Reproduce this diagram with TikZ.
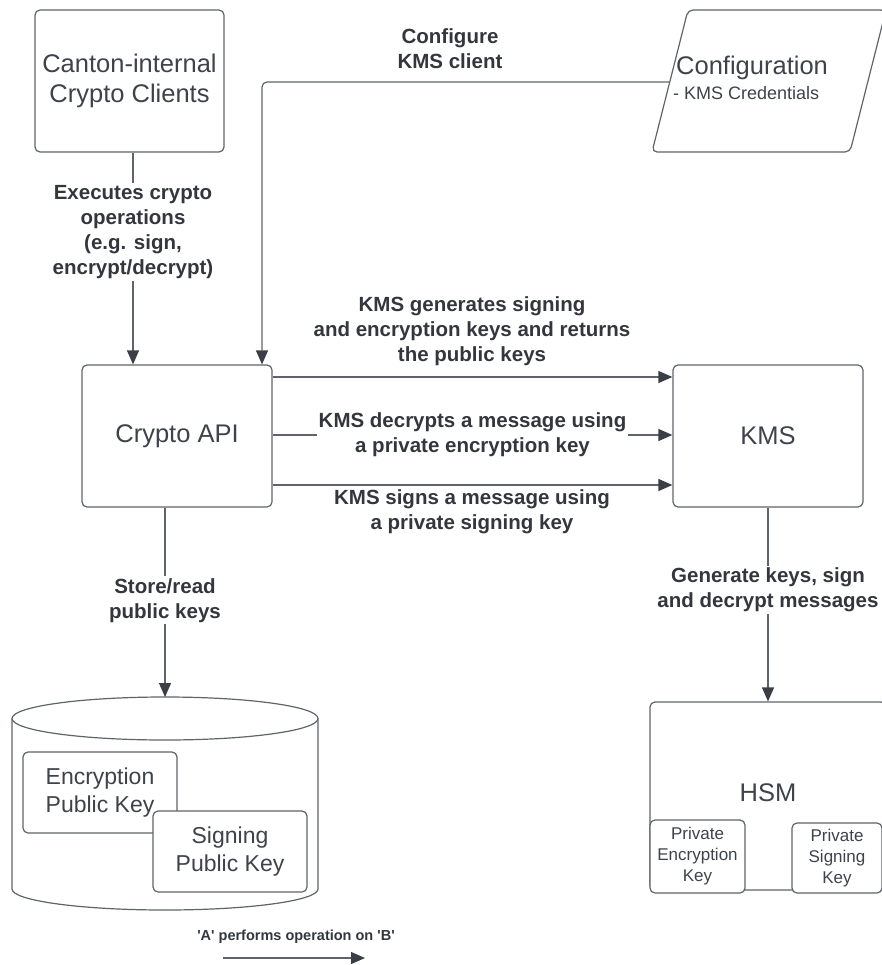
\documentclass[tikz,border=0pt]{standalone}
\usepackage{fontspec}
\setmainfont{Liberation Sans}
\usetikzlibrary{arrows.meta}
\definecolor{edge}{HTML}{5F646C}
\definecolor{tip}{HTML}{3A3F47}
\definecolor{txt}{HTML}{3E434B}
\definecolor{lbl}{HTML}{33373D}
\begin{document}
\begin{tikzpicture}[x=1pt,y=-1pt,
  box/.style={draw=edge, line width=1.2pt, rounded corners=5pt, fill=white, text=txt, align=center, inner sep=0pt},
  big/.style={font=\fontsize{25.5}{30}\selectfont},
  mid/.style={font=\fontsize{23}{28}\selectfont},
  small/.style={font=\fontsize{17}{21}\selectfont},
  lab/.style={font=\bfseries\fontsize{20.5}{25}\selectfont, text=lbl, align=center, inner sep=2pt},
  conn/.style={draw=edge, line width=1.2pt, -{Triangle[length=14pt,width=12pt,color=tip]}},
  ]
\useasboundingbox (0,0) rectangle (882,965);

% coordinates used by connectors
\coordinate (c1) at (133,0);
\coordinate (c2) at (262,0);
\coordinate (c3) at (165,0);
\coordinate (r1) at (0,377);
\coordinate (r2) at (0,435);
\coordinate (r3) at (0,485);
\coordinate (cfgin) at (669.7,82);
\coordinate (db) at (165,697);
\coordinate (la) at (223,958);
\coordinate (lb) at (365,958);

% boxes
\node[box,big,minimum width=189pt,minimum height=142pt] (canton) at (129.5,81) {Canton-internal\\Crypto Clients};
\node[box,big,minimum width=190pt,minimum height=142pt] (api) at (177,436) {Crypto API};
\node[box,big,minimum width=190pt,minimum height=142pt] (kms) at (768,436) {KMS};

% configuration parallelogram
\draw[draw=edge,line width=1.2pt,rounded corners=5pt,fill=white] (688,10) -- (886,10) -- (850,152) -- (652,152) -- cycle;
\node[anchor=base west, inner sep=0pt, big, text=txt] (cfgtitle) at (676,75) {Configuration};
\node[anchor=base west, inner sep=0pt, font=\fontsize{18}{22}\selectfont, text=txt] (cfgsub) at (673,100) {- KMS Credentials};

% HSM
\node[box,minimum width=236pt,minimum height=188pt] (hsm) at (768,796) {};
\node[big,text=txt,inner sep=0pt] (hsmtext) at (768,793) {HSM};
\node[box,small,minimum width=95pt,minimum height=73pt] (penc) at (697.5,856.5) {Private\\Encryption\\Key};
\node[box,small,minimum width=90pt,minimum height=70pt] (psig) at (837,858) {Private\\Signing\\Key};

% database cylinder
\draw[draw=edge, line width=1.2pt, fill=white] (12,718.5) -- (12,889) arc[start angle=180, end angle=360, x radius=153pt, y radius=21pt] -- (318,718.5);
\draw[draw=edge, line width=1.2pt, fill=white] (165,718.5) ellipse[x radius=153pt, y radius=21.5pt];
\node[box,mid,minimum width=154pt,minimum height=81pt] (encpub) at (100,792.5) {Encryption\\Public Key};
\node[box,mid,minimum width=154pt,minimum height=81pt] (sigpub) at (230,851.5) {Signing\\Public Key};

% connectors
\draw[conn] (canton.south -| c1) -- node[lab,fill=white,pos=0.375] (exec) {Executes crypto\\operations\\(e.g. sign,\\encrypt/decrypt)} (api.north -| c1);
\draw[conn,rounded corners=5pt] (cfgin) -| (api.north -| c2);
\node[lab] (cfglab) at (450,49) {Configure\\KMS client};

\draw[conn] (api.east |- r1) -- (kms.west |- r1);
\node[lab] (genlab) at (472,331) {KMS generates signing\\and encryption keys and returns\\the public keys};
\draw[conn] (api.east |- r2) -- node[lab,fill=white] (declab) {KMS decrypts a message using\\a private encryption key} (kms.west |- r2);
\draw[conn] (api.east |- r3) -- (kms.west |- r3);
\node[lab] (signlab) at (472,512) {KMS signs a message using\\a private signing key};

\draw[conn] (api.south -| c3) -- node[lab,fill=white,pos=0.49] (storelab) {Store/read\\public keys} (db);
\draw[conn] (kms.south) -- node[lab,fill=white,pos=0.426] (hsmlab) {Generate keys, sign\\and decrypt messages} (hsm.north);

% legend
\node[font=\bfseries\fontsize{14.5}{17}\selectfont, text=lbl, inner sep=0pt] (legend) at (296,937) {\textquotesingle A\textquotesingle{} performs operation on \textquotesingle B\textquotesingle};
\draw[conn] (la) -- (lb);
\end{tikzpicture}
\end{document}
